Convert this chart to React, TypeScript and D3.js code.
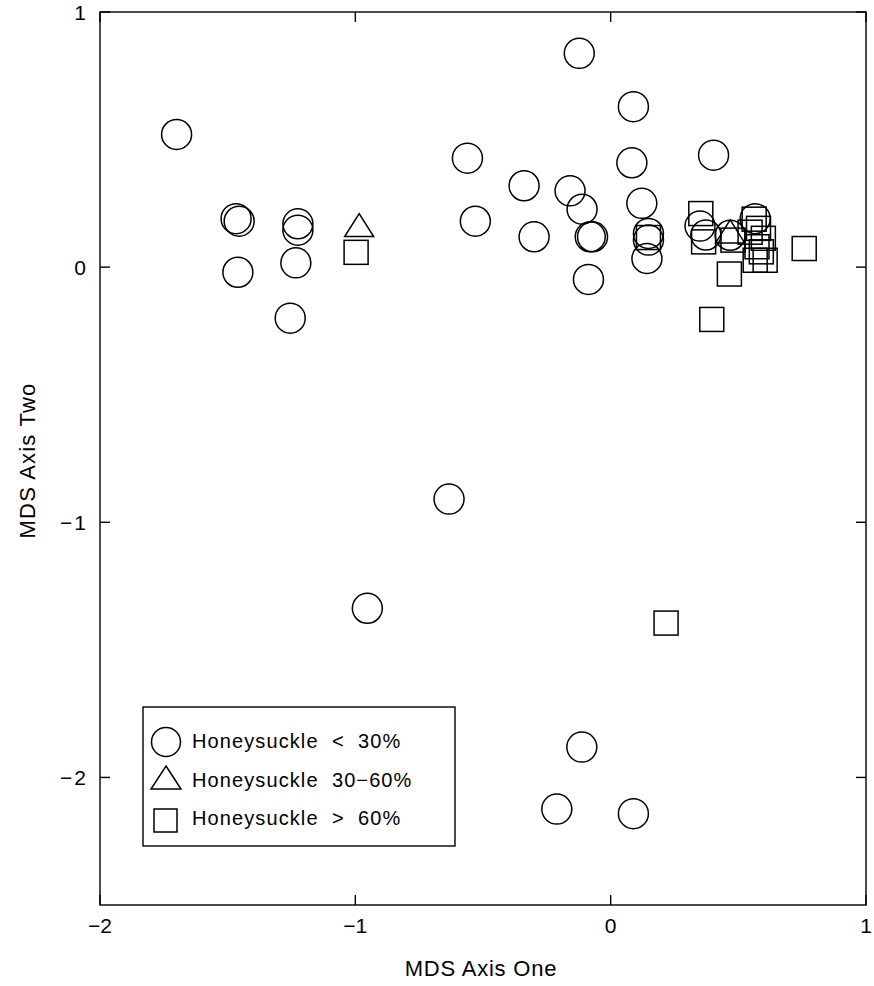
import React from "react";
import * as d3 from "d3";

// MDS ordination, points grouped by honeysuckle cover
const lowCover: [number, number][] = [
  [-1.70, 0.52], [-1.467, 0.19], [-1.455, 0.18], [-1.46, -0.02],
  [-1.225, 0.17], [-1.225, 0.145], [-1.233, 0.017], [-1.255, -0.2],
  [-0.561, 0.427], [-0.53, 0.18], [-0.123, 0.838], [0.089, 0.629],
  [0.083, 0.409], [-0.339, 0.319], [-0.159, 0.299], [-0.112, 0.227],
  [0.122, 0.25], [-0.3, 0.119], [-0.08, 0.119], [-0.071, 0.119],
  [-0.087, -0.048], [0.148, 0.132], [0.148, 0.106], [0.142, 0.034],
  [0.403, 0.439], [0.35, 0.161], [0.373, 0.126], [0.468, 0.125],
  [0.566, 0.19], [-0.633, -0.909], [-0.953, -1.337], [-0.113, -1.881],
  [-0.211, -2.124], [0.089, -2.142],
];
const midCover: [number, number][] = [[-0.985, 0.165], [0.468, 0.14]];
const highCover: [number, number][] = [
  [-0.997, 0.058], [0.148, 0.116], [0.353, 0.21], [0.364, 0.099],
  [0.465, -0.027], [0.479, 0.106], [0.562, 0.188], [0.579, 0.152],
  [0.598, 0.113], [0.573, 0.08], [0.566, 0.027], [0.605, 0.027],
  [0.546, 0.137], [0.59, 0.06], [0.758, 0.073], [0.396, -0.205],
  [0.217, -1.395],
];

const xTicks = [-2, -1, 0, 1];
const yTicks = [1, 0, -1, -2];
const legendLabels = ["Honeysuckle  <  30%", "Honeysuckle  30\u221260%", "Honeysuckle  >  60%"];

const fmt = (v: number) => (v < 0 ? "\u2212" + Math.abs(v) : String(v));

export default function App() {
  const W = 874, H = 986;
  const left = 100, right = 866, top = 12, bottom = 905;
  const x = d3.scaleLinear().domain([-2, 1]).range([left, right]);
  const y = d3.scaleLinear().domain([-2.5, 1]).range([bottom, top]);

  const tri = (cx: number, cy: number, w: number, h: number) =>
    `M${cx},${cy - h / 2}L${cx + w / 2},${cy + h / 2}L${cx - w / 2},${cy + h / 2}Z`;

  const font = "'Liberation Sans', Arial, sans-serif";
  const tk = 10;

  return (
    <svg width={W} height={H} style={{ position: "absolute", left: 0, top: 0, background: "#fff" }}
      fontFamily={font}>
      <rect x={left} y={top} width={right - left} height={bottom - top} fill="none" stroke="#000" strokeWidth={1.4} />

      {/* ticks, drawn inward on all four sides */}
      <g stroke="#000" strokeWidth={1.4}>
        {xTicks.map(t => (
          <g key={"xt" + t}>
            <line x1={x(t)} x2={x(t)} y1={bottom} y2={bottom - tk} />
            <line x1={x(t)} x2={x(t)} y1={top} y2={top + tk} />
          </g>
        ))}
        {yTicks.map(t => (
          <g key={"yt" + t}>
            <line x1={left} x2={left + tk} y1={y(t)} y2={y(t)} />
            <line x1={right} x2={right - tk} y1={y(t)} y2={y(t)} />
          </g>
        ))}
      </g>

      <g fontSize={21} fill="#000">
        {xTicks.map(t => (
          <text key={"xl" + t} x={x(t)} y={bottom + 28} textAnchor="middle">{fmt(t)}</text>
        ))}
        {yTicks.map(t => (
          <text key={"yl" + t} x={88} y={y(t)} dy="0.36em" textAnchor="end" letterSpacing={2}>{fmt(t)}</text>
        ))}
      </g>

      <text x={(left + right) / 2 - 2} y={976} textAnchor="middle" fontSize={22} letterSpacing={0.8}>MDS Axis One</text>
      <text transform={`translate(35,${(top + bottom) / 2 + 2}) rotate(-90)`} textAnchor="middle" fontSize={22} letterSpacing={1.2}>MDS Axis Two</text>

      {/* points */}
      <g fill="none" stroke="#000" strokeWidth={1.5}>
        {lowCover.map((d, i) => (
          <circle key={"c" + i} cx={x(d[0])} cy={y(d[1])} r={15} />
        ))}
        {midCover.map((d, i) => (
          <path key={"t" + i} d={tri(x(d[0]), y(d[1]), 29, 23)} />
        ))}
        {highCover.map((d, i) => (
          <rect key={"s" + i} x={x(d[0]) - 12} y={y(d[1]) - 12} width={24} height={24} />
        ))}
      </g>

      {/* legend */}
      <g>
        <rect x={143} y={707} width={312} height={139} fill="#fff" stroke="#000" strokeWidth={1.4} />
        <circle cx={166} cy={742} r={14.5} fill="none" stroke="#000" strokeWidth={1.5} />
        <path d={tri(166, 777.5, 30, 23)} fill="none" stroke="#000" strokeWidth={1.5} />
        <rect x={154} y={809} width={23} height={23} fill="none" stroke="#000" strokeWidth={1.5} />
        {legendLabels.map((l, i) => (
          <text key={l} x={192} y={748 + i * 38.5} fontSize={20} letterSpacing={1.1} style={{ whiteSpace: "pre" }}>{l}</text>
        ))}
      </g>
    </svg>
  );
}
